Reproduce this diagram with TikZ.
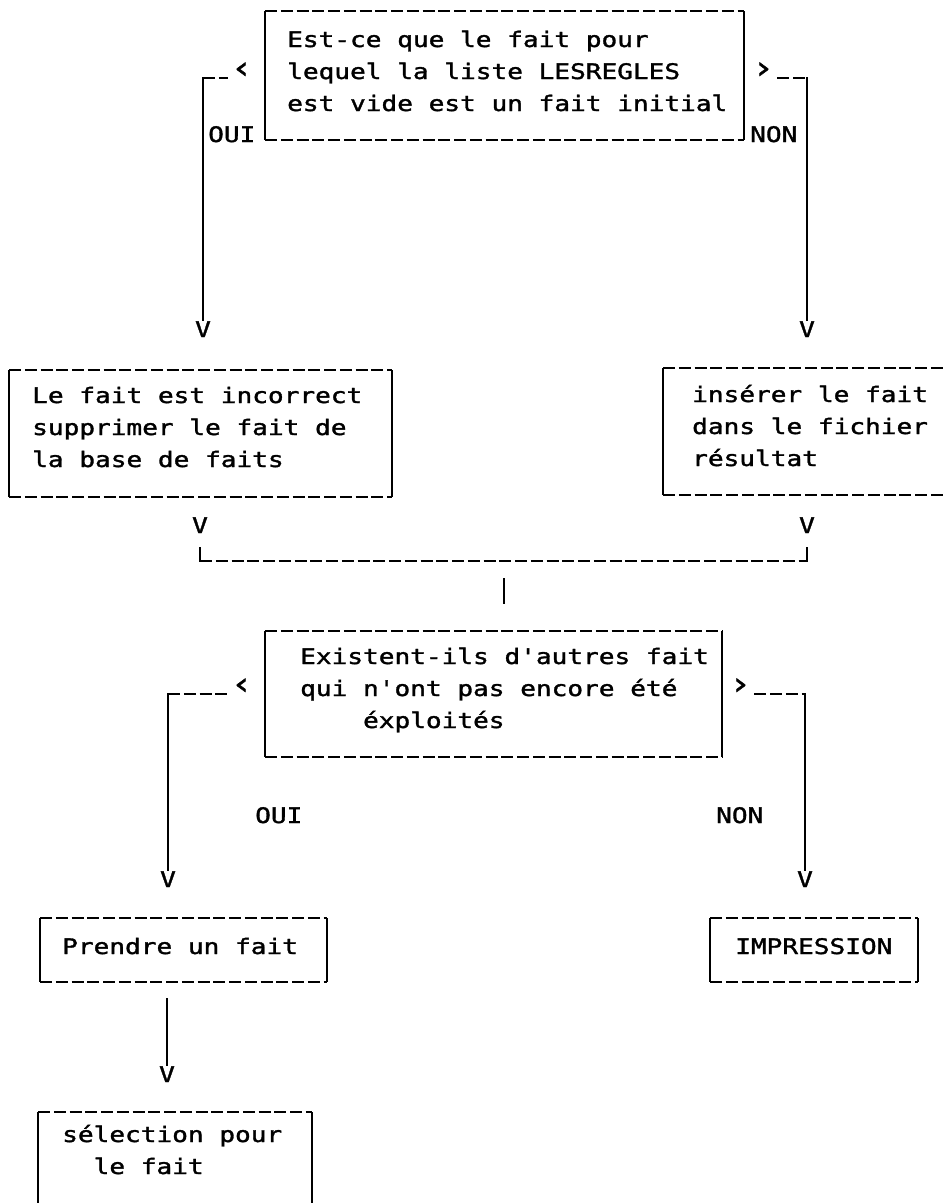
\documentclass[tikz,border=0pt]{standalone}
\usepackage{fontspec}
\newfontfamily\typefont[FakeStretch=1.22,FakeBold=1.5]{DejaVu Sans Mono}
\usetikzlibrary{calc}

\tikzset{
  frame side/.style={line width=1.9pt},
  frame dash/.style={line width=1.9pt, dash pattern=on 12pt off 3.75pt},
  cell/.style={inner sep=0pt, draw=none, anchor=north west},
  label/.style={font=\typefont\fontsize{21.4}{32}\selectfont, inner sep=0pt,
                anchor=base west, align=left},
  tip/.style={font=\typefont\fontsize{21.4}{32}\selectfont, inner sep=0pt, anchor=base},
  chevron/.style={font=\typefont\fontsize{30}{32}\selectfont, inner sep=0pt},
}

% dashed top and bottom rules, solid sides
\newcommand\ruledframe[1]{%
  \draw[frame dash] (#1.north west) -- (#1.north east)
                    (#1.south west) -- (#1.south east);
  \draw[frame side] (#1.north west) -- (#1.south west)
                    (#1.north east) -- (#1.south east);}

\begin{document}
\begin{tikzpicture}[x=1pt,y=-1pt]
\useasboundingbox (0,0) rectangle (945,1203);
\clip (0,0) rectangle (945,1203);

% ---------- first question ----------
\node[cell, minimum width=479pt, minimum height=129pt] (q1) at (265,11) {};
\ruledframe{q1}
\node[label] (q1t) at (287,111) {Est-ce que le fait pour\\lequel la liste LESREGLES\\est vide est un fait initial};
\node[chevron, anchor=base east] (q1l) at (253,78) {‹};
\node[chevron, anchor=base west] (q1r) at (752,78) {›};
\node[label] (q1oui) at (208,142) {OUI};
\node[label] (q1non) at (750,142) {NON};
\node[tip] (v1) at (203,337) {V};
\node[tip] (v2) at (807,337) {V};
\draw[frame dash] (v1 |- q1l.south) -- ([xshift=-3pt]q1l.south west);
\draw[frame side] ([yshift=0.9pt]v1 |- q1l.south) -- (v1.north);
\draw[frame dash] ([xshift=3pt]q1r.south east) -- (v2 |- q1r.south);
\draw[frame side] ([yshift=0.9pt]v2 |- q1r.south) -- (v2.north);

% ---------- outcomes ----------
\node[cell, minimum width=383pt, minimum height=127pt] (bl) at (9,370) {};
\ruledframe{bl}
\node[label] (blt) at (32,467) {Le fait est incorrect\\supprimer le fait de\\la base de faits};

\node[cell, minimum width=340pt, minimum height=127pt] (br) at (663,368) {};
\ruledframe{br}
\node[label] (brt) at (692,466) {insérer le fait\\dans le fichier\\résultat};

\node[tip] (vl) at (200,533) {V};
\node[tip] (vr) at (807,533) {V};
\coordinate (merge) at (504,561);
\draw[frame side] ($(vl.base)+(0,14)$) -- ([yshift=-0.9pt]vl |- merge);
\draw[frame dash] (vl |- merge) -- (vr |- merge);
\draw[frame side] ([yshift=-0.9pt]vr |- merge) -- ($(vr.base)+(0,14)$);
\draw[frame side] ($(merge)+(0,17)$) -- ($(merge)+(0,43)$);

% ---------- second question ----------
\node[cell, minimum width=457pt, minimum height=126pt] (q2) at (265,631) {};
\ruledframe{q2}
\node[label] (q2t) at (300,728) {Existent-ils d'autres fait\\qui n'ont pas encore été\\\hphantom{xxxx}éxploités};
\node[chevron, anchor=base east] (q2l) at (253,694) {‹};
\node[chevron, anchor=base west] (q2r) at (729,694) {›};
\node[label] (q2oui) at (255,823) {OUI};
\node[label] (q2non) at (716,823) {NON};
\node[tip] (v3) at (168,887) {V};
\node[tip] (v4) at (805,887) {V};
\draw[frame dash] (v3 |- q2l.south) -- ([xshift=-3pt]q2l.south west);
\draw[frame side] ([yshift=0.9pt]v3 |- q2l.south) -- (v3.north);
\draw[frame dash] ([xshift=3pt]q2r.south east) -- (v4 |- q2r.south);
\draw[frame side] ([yshift=0.9pt]v4 |- q2r.south) -- (v4.north);

% ---------- actions ----------
\node[cell, minimum width=287pt, minimum height=64pt] (take) at (40,918) {};
\ruledframe{take}
\node[label] (taket) at (62,954) {Prendre un fait};

\node[cell, minimum width=208pt, minimum height=64pt] (print) at (710,918) {};
\ruledframe{print}
\node[label] (printt) at (735,954) {IMPRESSION};

\node[tip] (v5) at (167,1082) {V};
\draw[frame side] ($(v5.north |- take.south)+(0,16)$) -- (v5.north);

\node[cell, minimum width=274pt, minimum height=130pt] (sel) at (38,1112) {};
\ruledframe{sel}
\node[label] (selt) at (62,1174) {sélection pour\\\hphantom{xx}le fait};
\end{tikzpicture}
\end{document}
